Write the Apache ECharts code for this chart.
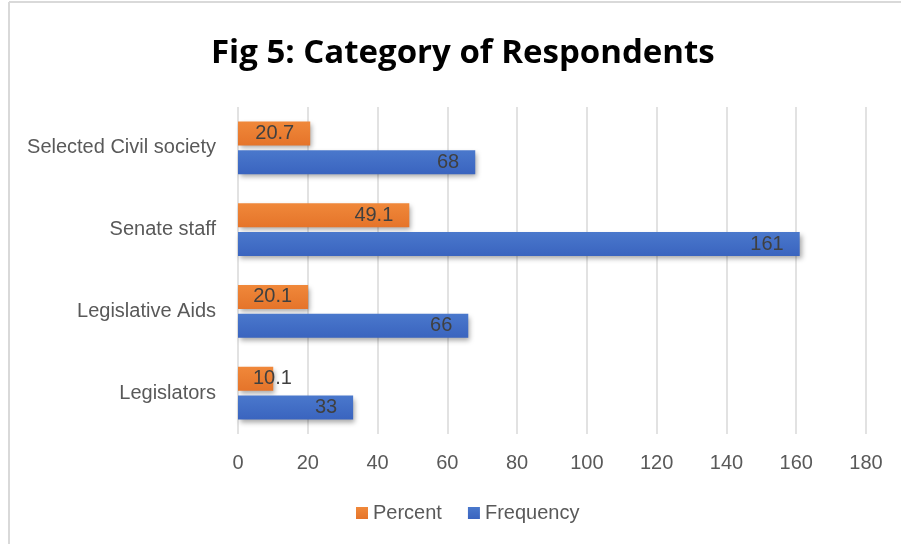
<!DOCTYPE html>
<html>
<head>
<meta charset="utf-8">
<script src="https://cdn.jsdelivr.net/npm/echarts@6/dist/echarts.min.js"></script>
<style>
  html, body { margin: 0; padding: 0; background: #fff; }
  #chart { width: 901px; height: 544px; }
</style>
</head>
<body>
<div id="chart"></div>
<script>
// Respondent categories, listed from the bottom of the axis upward
const categories = ['Legislators', 'Legislative Aids', 'Senate staff', 'Selected Civil society'];
const frequency = [33, 66, 161, 68];
const percent = [10.1, 20.1, 49.1, 20.7];
const xTicks = { min: 0, max: 180, interval: 20 };

const FONT = 'Liberation Sans, Arial, sans-serif';
const chart = echarts.init(document.getElementById('chart'));

const barShadow = {
  shadowBlur: 5,
  shadowOffsetX: 2,
  shadowOffsetY: 3,
  shadowColor: 'rgba(0,0,0,0.35)'
};

const labelStyle = {
  show: true,
  position: 'insideRight',
  color: '#404040',
  fontSize: 20,
  fontFamily: FONT,
  distance: 16
};

// A value too short to hold its label inside the bar end gets it from the bar start instead
function withLabels(values, max) {
  return values.map(v => v / max < 0.08
    ? { value: v, label: { position: 'insideLeft', distance: 15 } }
    : v);
}

chart.setOption({
  backgroundColor: '#fff',
  title: {
    text: 'Fig 5: Category of Respondents',
    left: 206,
    top: 32,
    textStyle: {
      fontFamily: 'Open Sans, sans-serif',
      fontWeight: 'bold',
      fontSize: 33,
      color: '#000'
    }
  },
  legend: {
    data: ['Percent', 'Frequency'],
    bottom: 16,
    left: 351,
    icon: 'rect',
    itemWidth: 12,
    itemHeight: 12,
    itemGap: 26,
    textStyle: {
      color: '#595959',
      fontSize: 20,
      fontFamily: FONT
    }
  },
  grid: {
    left: 238,
    right: 35,
    top: 107,
    bottom: 110
  },
  xAxis: {
    type: 'value',
    min: xTicks.min,
    max: xTicks.max,
    interval: xTicks.interval,
    axisLine: { show: false },
    axisTick: { show: false },
    axisLabel: {
      color: '#595959',
      fontSize: 20,
      margin: 19,
      fontFamily: FONT
    },
    splitLine: { lineStyle: { color: '#d9d9d9', width: 1.5 } }
  },
  yAxis: {
    type: 'category',
    data: categories,
    axisLine: { show: false },
    axisTick: { show: false },
    axisLabel: {
      color: '#595959',
      fontSize: 20,
      margin: 22,
      fontFamily: FONT
    }
  },
  graphic: [
    { type: 'line', shape: { x1: 9, y1: 2, x2: 901, y2: 2 }, style: { stroke: '#d9d9d9', lineWidth: 2 } },
    { type: 'line', shape: { x1: 9, y1: 2, x2: 9, y2: 544 }, style: { stroke: '#d9d9d9', lineWidth: 2 } }
  ],
  series: [
    {
      name: 'Percent',
      type: 'bar',
      data: withLabels(percent, xTicks.max),
      barWidth: 24,
      barGap: '20%',
      itemStyle: Object.assign({
        color: new echarts.graphic.LinearGradient(0, 0, 0, 1, [
          { offset: 0, color: '#f0883a' },
          { offset: 1, color: '#e5742a' }
        ])
      }, barShadow),
      label: labelStyle
    },
    {
      name: 'Frequency',
      type: 'bar',
      data: withLabels(frequency, xTicks.max),
      barWidth: 24,
      barGap: '20%',
      itemStyle: Object.assign({
        color: new echarts.graphic.LinearGradient(0, 0, 0, 1, [
          { offset: 0, color: '#4a78cc' },
          { offset: 1, color: '#3a64bf' }
        ])
      }, barShadow),
      label: labelStyle
    }
  ]
});
</script>
</body>
</html>
